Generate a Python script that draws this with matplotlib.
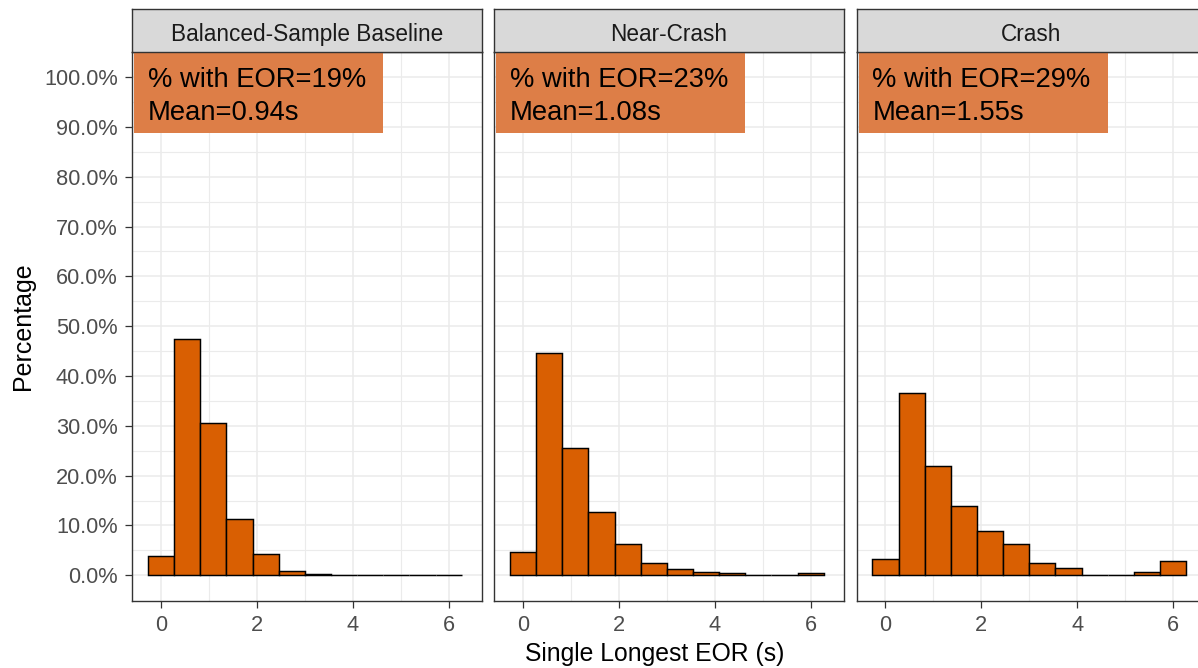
import matplotlib
matplotlib.use('Agg')
import matplotlib.pyplot as plt
from matplotlib.patches import Rectangle
from matplotlib.ticker import FixedLocator, FuncFormatter
import numpy as np

plt.rcParams['font.family'] = ['Liberation Sans', 'DejaVu Sans']

# facets and their summary labels
facets = ['Balanced-Sample Baseline', 'Near-Crash', 'Crash']
eor_share = [19, 23, 29]          # % of events with an EOR
eor_mean = [0.94, 1.08, 1.55]     # mean single longest EOR (s)

# histogram: 12 bins spanning 0..6 s, bar heights in percent
bin_centers = np.linspace(0, 6, 12)
bin_width = 6 / 11
baseline_pct = [3.9, 47.4, 30.6, 11.3, 4.3, 0.9, 0.3, 0.0, 0.0, 0.0, 0.0, 0.0]
near_crash_pct = [4.7, 44.6, 25.6, 12.8, 6.2, 2.5, 1.2, 0.7, 0.4, 0.0, 0.0, 0.4]
crash_pct = [3.3, 36.5, 22.0, 13.9, 8.8, 6.2, 2.5, 1.5, 0.0, 0.0, 0.7, 2.9]
heights = [baseline_pct, near_crash_pct, crash_pct]

y_major = np.arange(0, 101, 10)
y_minor = np.arange(5, 100, 10)
x_major = [0, 2, 4, 6]
x_minor = [1, 3, 5]

W, H = 1198, 668
fig = plt.figure(figsize=(W / 100, H / 100), dpi=100)
fig.patch.set_facecolor('white')


def px_axes(left, top, width, height):
    return fig.add_axes([left / W, 1 - (top + height) / H, width / W, height / H])


panel_lefts = [132.3, 494.3, 856.7]
panel_w = 349.4
panel_top, panel_h = 51.7, 549.0
strip_top, strip_h = 9.3, 42.4
label_h = 81.6   # height of the summary label box, px

fill = '#D95F02'
border = '#333333'

axes = []
labels = []
for i, name in enumerate(facets):
    ax = px_axes(panel_lefts[i], panel_top, panel_w, panel_h)
    ax.set_xlim(-0.6, 6.69)
    ax.set_ylim(-5.1, 105.1)

    ax.yaxis.set_major_locator(FixedLocator(y_major))
    ax.yaxis.set_minor_locator(FixedLocator(y_minor))
    ax.xaxis.set_major_locator(FixedLocator(x_major))
    ax.xaxis.set_minor_locator(FixedLocator(x_minor))
    ax.grid(which='major', color='#EBEBEB', linewidth=1.1)
    ax.grid(which='minor', color='#EBEBEB', linewidth=0.8)
    ax.set_axisbelow(True)

    ax.bar(bin_centers, heights[i], width=bin_width, color=fill,
           edgecolor='black', linewidth=1.05, zorder=3)

    for s in ax.spines.values():
        s.set_color(border)
        s.set_linewidth(1.0)

    ax.tick_params(which='major', length=5, width=0.9, color=border,
                   labelcolor='#4D4D4D', labelsize=15.7, pad=5)
    ax.tick_params(which='minor', length=0)
    ax.tick_params(axis='y', pad=5.5)
    if i == 0:
        ax.yaxis.set_major_formatter(FuncFormatter(lambda v, p: f'{v:.1f}%'))
    else:
        ax.tick_params(axis='y', which='both', left=False, labelleft=False)

    # summary label in the top-left corner
    t = ax.annotate(f'% with EOR={eor_share[i]}%\nMean={eor_mean[i]:.2f}s',
                    xy=(0, 1), xycoords='axes fraction',
                    xytext=(11.3, -11.0), textcoords='offset points',
                    ha='left', va='top', fontsize=19.7, linespacing=1.33,
                    color='black', zorder=6)
    axes.append(ax)
    labels.append(t)

    # facet strip
    st = px_axes(panel_lefts[i], strip_top, panel_w, strip_h)
    st.set_facecolor('#D9D9D9')
    st.set_xticks([])
    st.set_yticks([])
    for s in st.spines.values():
        s.set_color(border)
        s.set_linewidth(1.0)
    st.text(0.5, 0.26, name, transform=st.transAxes, ha='center',
            va='baseline', fontsize=16.3, color='#1A1A1A')

fig.text(654.5 / W, (H - 660.5) / H, 'Single Longest EOR (s)',
         ha='center', va='baseline', fontsize=17.8, color='black')
fig.text(23 / W, 1 - 326.2 / H, 'Percentage', rotation=90,
         ha='center', va='center', fontsize=18, color='black')

# label boxes sized to the text they hold
fig.canvas.draw()
renderer = fig.canvas.get_renderer()
for i, (ax, t) in enumerate(zip(axes, labels)):
    ext = t.get_window_extent(renderer)
    x0 = panel_lefts[i] + 2
    x1 = ext.x1 + 17
    y_top = H - panel_top
    box = Rectangle((x0 / W, (y_top - label_h) / H), (x1 - x0) / W, label_h / H,
                    transform=fig.transFigure, facecolor='#DD7E47',
                    edgecolor='none', zorder=5, clip_on=False)
    ax.add_patch(box)

fig.savefig('out.png', dpi=100)
